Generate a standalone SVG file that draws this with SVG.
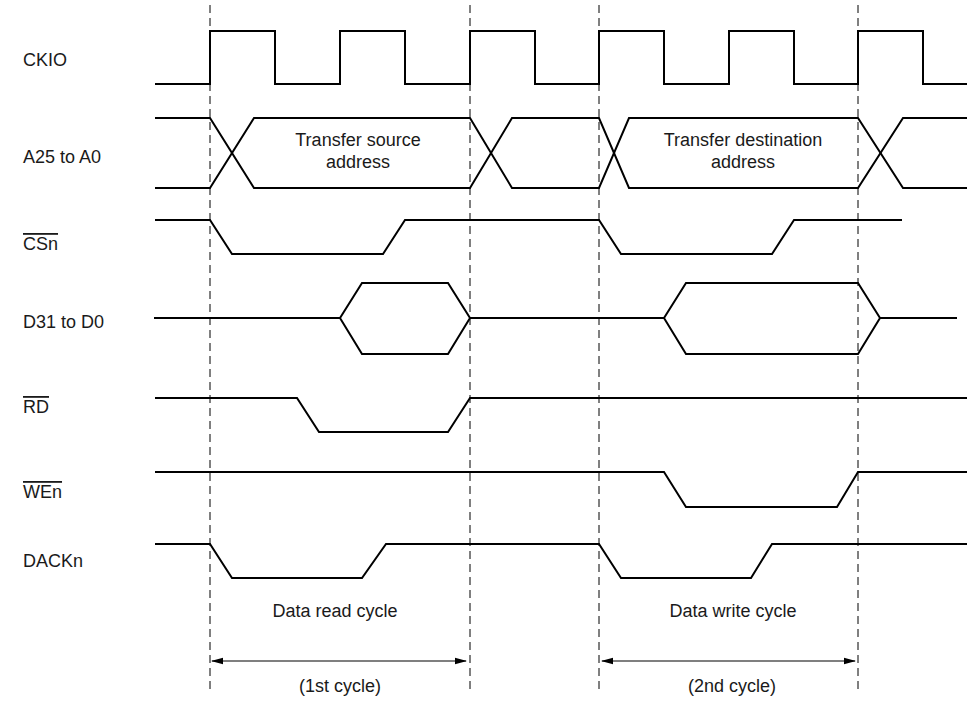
<svg xmlns="http://www.w3.org/2000/svg" width="970" height="701" viewBox="0 0 970 701">
<style>
text{font-family:"Liberation Sans",Arial,sans-serif;font-size:18px;fill:#1a1a1a}
.sig{fill:none;stroke:#000;stroke-width:2;stroke-linejoin:miter}
.guide{stroke:#000;stroke-width:1;stroke-dasharray:8,5}
.dim{stroke:#000;stroke-width:1.2;fill:none}
.ov{text-decoration:overline}
.c{text-anchor:middle}
</style>
<defs>
<marker id="ah" markerWidth="12" markerHeight="8" refX="11" refY="4" orient="auto-start-reverse" markerUnits="userSpaceOnUse">
<path d="M0,0.8 L12,4 L0,7.2 Z" fill="#000"/>
</marker>
</defs>
<rect width="970" height="701" fill="#fff"/>
<g id="guides">
<line class="guide" x1="210" y1="5" x2="210" y2="690"/>
<line class="guide" x1="470" y1="5" x2="470" y2="690"/>
<line class="guide" x1="599" y1="5" x2="599" y2="690"/>
<line class="guide" x1="858" y1="5" x2="858" y2="690"/>
</g>
<g id="ckio">
<text x="23" y="66">CKIO</text>
<path class="sig" d="M155,84 H210 V31 H275 V84 H340 V31 H405 V84 H470 V31 H535 V84 H599 V31 H664 V84 H729 V31 H794 V84 H858 V31 H923 V84 H967"/>
</g>
<g id="addr">
<text x="23" y="163">A25 to A0</text>
<path class="sig" d="M155,118 H210 L254,188 H470 L512,118 H599 L629,188 H858 L903,118 H967"/>
<path class="sig" d="M155,188 H210 L254,118 H470 L512,188 H599 L629,118 H858 L903,188 H967"/>
<text class="c" x="358" y="146">Transfer source</text>
<text class="c" x="358" y="168">address</text>
<text class="c" x="743" y="146">Transfer destination</text>
<text class="c" x="743" y="168">address</text>
</g>
<g id="csn">
<text class="ov" x="23" y="250">CSn</text>
<path class="sig" d="M155,220 H210 L232,254 H383 L405,220 H599 L621,254 H772 L794,220 H902"/>
</g>
<g id="data">
<text x="23" y="328">D31 to D0</text>
<path class="sig" d="M154,318 H340 L362,283 H448 L470,318 L448,354 H362 L340,318"/>
<path class="sig" d="M470,318 H664 L686,283 H858 L880,318 L858,354 H686 L664,318 M880,318 H957"/>
</g>
<g id="rd">
<text class="ov" x="23" y="413">RD</text>
<path class="sig" d="M155,398 H297 L319,432 H448 L470,398 H967"/>
</g>
<g id="wen">
<text class="ov" x="23" y="498">WEn</text>
<path class="sig" d="M155,472 H664 L686,507 H837 L858,472 H967"/>
</g>
<g id="dackn">
<text x="23" y="567">DACKn</text>
<path class="sig" d="M155,544 H210 L232,578 H362 L386,544 H599 L621,578 H751 L772,544 H967"/>
</g>
<g id="cycle1">
<text class="c" x="335" y="617">Data read cycle</text>
<text class="c" x="340" y="692">(1st cycle)</text>
</g>
<g id="cycle2">
<text class="c" x="733" y="617">Data write cycle</text>
<text class="c" x="732" y="692">(2nd cycle)</text>
</g>
<g id="connectors">
<line class="dim" x1="212" y1="661" x2="466" y2="661" marker-start="url(#ah)" marker-end="url(#ah)"/>
<line class="dim" x1="602" y1="661" x2="855" y2="661" marker-start="url(#ah)" marker-end="url(#ah)"/>
</g>
</svg>
